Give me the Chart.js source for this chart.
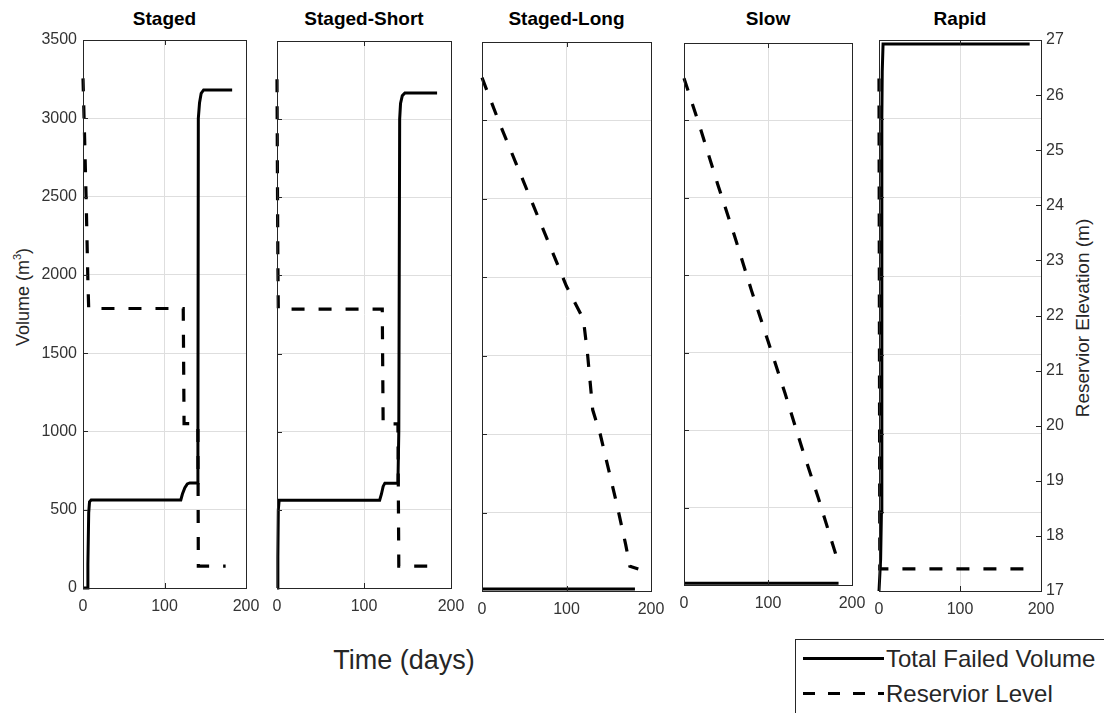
<!DOCTYPE html>
<html>
<head>
<meta charset="utf-8">
<script src="https://cdn.jsdelivr.net/npm/chart.js@4.4.1/dist/chart.umd.min.js"></script>
<style>
  body { margin: 0; background: #fff; font-family: "Liberation Sans", Arial, sans-serif; }
  #wrap { position: relative; width: 1104px; height: 713px; overflow: hidden; background: #fff; }
  #wrap canvas { position: absolute; }
  .txt { position: absolute; color: #262626; white-space: nowrap; line-height: 1; }
  .title { font-weight: bold; font-size: 19px; transform: translateX(-50%); color: #000; }
  .vlabel { font-size: 18px; transform: translate(-50%, -50%) rotate(-90deg); }
  #legend { position: absolute; left: 795px; top: 639px; width: 330px; height: 90px; border: 1px solid #262626; background: #fff; }
  #legend .txt { font-size: 24px; transform: translateY(-50%); color: #262626; }
</style>
</head>
<body>
<div id="wrap">
  <div class="txt vlabel" style="left:22px; top:297px;">Volume (m<sup style="font-size:11px; vertical-align:8px;">3</sup>)</div>
  <div class="txt vlabel" style="left:1082px; top:318px; font-size:19px;">Reservior Elevation (m)</div>
  <div class="txt" style="left:404px; top:660px; font-size:27px; transform:translate(-50%,-50%);">Time (days)</div>
  <div id="legend">
    <svg width="95" height="75" style="position:absolute; left:0; top:0;">
      <line x1="7" y1="18.5" x2="88" y2="18.5" stroke="#000" stroke-width="3"/>
      <line x1="7" y1="53.5" x2="88" y2="53.5" stroke="#000" stroke-width="3" stroke-dasharray="12 13"/>
    </svg>
    <div class="txt" style="left:90px; top:19px;">Total Failed Volume</div>
    <div class="txt" style="left:90px; top:54px;">Reservior Level</div>
  </div>
</div>
<script>
// ---- data ----
const scenarios = ['Staged', 'Staged-Short', 'Staged-Long', 'Slow', 'Rapid'];
const xTicks = [0, 100, 200];
const volumeTicks = [0, 500, 1000, 1500, 2000, 2500, 3000, 3500];
const elevationTicks = [17, 18, 19, 20, 21, 22, 23, 24, 25, 26, 27];

// total failed volume (m3), [day, volume]
const stagedVolume = [[0, 0], [5, 0], [6, 150], [7, 480], [8, 550], [10, 562], [120, 562], [122, 600], [125, 640], [128, 665], [131, 671], [140, 671], [141, 1000], [141.5, 3000], [143, 3100], [145, 3160], [148, 3181], [183, 3181]];
const stagedShortVolume = [[0, 0], [1, 200], [1.5, 500], [2.5, 562], [118, 562], [120, 600], [122, 650], [124, 671], [139, 671], [140, 1000], [141, 3000], [142, 3100], [144, 3150], [147, 3168], [184, 3168]];
const stagedLongVolume = [[0, 12], [181, 12]];
const slowVolume = [[0, 12], [184, 12]];
const rapidVolume = [[0, 0], [2, 200], [3, 500], [3.5, 3000], [4, 3300], [5, 3474], [186, 3474]];

// reservoir level (m), [day, elevation]
const stagedLevel = [[0, 26.3], [2, 25.2], [4, 24], [6, 22.6], [7, 22.1], [123, 22.1], [124, 20], [141, 20], [141.5, 17.4], [175, 17.4]];
const stagedShortLevel = [[0, 26.3], [0.5, 24.5], [1, 23], [1.5, 22.1], [121, 22.1], [122, 20], [139, 20], [140, 17.4], [184, 17.4]];
const stagedLongLevel = [[0, 26.35], [20, 25.55], [40, 24.8], [60, 24.05], [80, 23.3], [100, 22.55], [120, 21.95], [125, 21.3], [131, 20.3], [140, 19.85], [150, 19.2], [160, 18.55], [170, 17.85], [175, 17.45], [185, 17.4]];
const slowLevel = [[0, 26.35], [20, 25.4], [40, 24.4], [60, 23.45], [80, 22.45], [100, 21.5], [120, 20.55], [140, 19.55], [160, 18.6], [182, 17.5]];
const rapidLevel = [[0, 26.3], [1, 17.4], [182, 17.4]];

const volumeSeries = [stagedVolume, stagedShortVolume, stagedLongVolume, slowVolume, rapidVolume];
const levelSeries = [stagedLevel, stagedShortLevel, stagedLongLevel, slowLevel, rapidLevel];

// ---- layout: plot box of each panel [left, top, right, bottom] in page pixels ----
const boxes = [
    [83, 40, 246, 588],
    [277, 41, 451, 588],
    [482, 42, 651, 591],
    [684, 43, 852, 585],
    [879, 40, 1041, 591]
];
const PAD_L = 70, PAD_R = 50, PAD_T = 20, PAD_B = 34;
const axisColor = '#262626';
const labelColor = '#333333';
const gridColor = '#dedede';
const tickFont = { family: '"Liberation Sans", Arial, sans-serif', size: 16 };

// frame round the plot box plus MATLAB-style inward ticks
const boxFrame = {
    id: 'boxFrame',
    afterDatasetsDraw(chart, args, opts) {
        const { ctx, chartArea: a, scales } = chart;
        ctx.save();
        ctx.strokeStyle = axisColor;
        ctx.lineWidth = 1;
        ctx.strokeRect(a.left + 0.5, a.top + 0.5, a.right - a.left, a.bottom - a.top);
        ctx.beginPath();
        scales.x.ticks.forEach(t => {
            const px = Math.round(scales.x.getPixelForValue(t.value)) + 0.5;
            ctx.moveTo(px, a.bottom); ctx.lineTo(px, a.bottom - 5);
            ctx.moveTo(px, a.top); ctx.lineTo(px, a.top + 5);
        });
        scales.y.ticks.forEach(t => {
            const py = Math.round(scales.y.getPixelForValue(t.value)) + 0.5;
            ctx.moveTo(a.left, py); ctx.lineTo(a.left + 5, py);
        });
        if (opts.rightTicks) {
            scales.y2.ticks.forEach(t => {
                const py = Math.round(scales.y2.getPixelForValue(t.value)) + 0.5;
                ctx.moveTo(a.right, py); ctx.lineTo(a.right - 5, py);
            });
        }
        ctx.stroke();
        ctx.restore();
    }
};

const wrap = document.getElementById('wrap');

scenarios.forEach((name, i) => {
    const [L, T, R, B] = boxes[i];
    const w = R - L + PAD_L + PAD_R;
    const h = B - T + PAD_T + PAD_B;

    // panel title
    const title = document.createElement('div');
    title.className = 'txt title';
    title.style.left = ((L + R) / 2) + 'px';
    title.style.top = '9px';
    title.textContent = name;
    wrap.appendChild(title);

    const canvas = document.createElement('canvas');
    canvas.width = w;
    canvas.height = h;
    canvas.style.left = (L - PAD_L) + 'px';
    canvas.style.top = (T - PAD_T) + 'px';
    canvas.style.width = w + 'px';
    canvas.style.height = h + 'px';
    wrap.appendChild(canvas);

    new Chart(canvas, {
        type: 'line',
        data: {
            datasets: [
                {
                    label: 'Total Failed Volume',
                    data: volumeSeries[i].map(p => ({ x: p[0], y: p[1] })),
                    yAxisID: 'y',
                    borderColor: '#000',
                    borderWidth: 3,
                    pointRadius: 0,
                    tension: 0,
                    clip: false
                },
                {
                    label: 'Reservior Level',
                    data: levelSeries[i].map(p => ({ x: p[0], y: p[1] })),
                    yAxisID: 'y2',
                    borderColor: '#000',
                    borderWidth: 3.2,
                    borderDash: [13, 14],
                    pointRadius: 0,
                    tension: 0,
                    clip: false
                }
            ]
        },
        options: {
            responsive: false,
            animation: false,
            events: [],
            layout: { padding: { top: PAD_T, left: 0, right: 0, bottom: 0 } },
            plugins: {
                legend: { display: false },
                tooltip: { enabled: false },
                boxFrame: { rightTicks: i === 4 }
            },
            scales: {
                x: {
                    type: 'linear',
                    min: 0,
                    max: 200,
                    afterBuildTicks: s => { s.ticks = xTicks.map(v => ({ value: v })); },
                    afterFit: s => { s.height = PAD_B; },
                    grid: { color: gridColor, drawTicks: false },
                    border: { display: false },
                    ticks: { padding: 9, color: labelColor, font: tickFont, maxRotation: 0, autoSkip: false,
                             callback: v => String(v) }
                },
                y: {
                    position: 'left',
                    min: 0,
                    max: 3500,
                    afterBuildTicks: s => { s.ticks = volumeTicks.map(v => ({ value: v })); },
                    afterFit: s => { s.width = PAD_L; },
                    grid: { color: gridColor, drawTicks: false },
                    border: { display: false },
                    ticks: { display: i === 0, padding: 6, color: labelColor, font: tickFont,
                             callback: v => String(v) }
                },
                y2: {
                    position: 'right',
                    min: 17,
                    max: 27,
                    afterBuildTicks: s => { s.ticks = elevationTicks.map(v => ({ value: v })); },
                    afterFit: s => { s.width = PAD_R; },
                    grid: { display: false, drawTicks: false },
                    border: { display: false },
                    ticks: { display: i === 4, padding: 5, color: labelColor, font: tickFont,
                             callback: v => String(v) }
                }
            }
        },
        plugins: [boxFrame]
    });
});
</script>
</body>
</html>
